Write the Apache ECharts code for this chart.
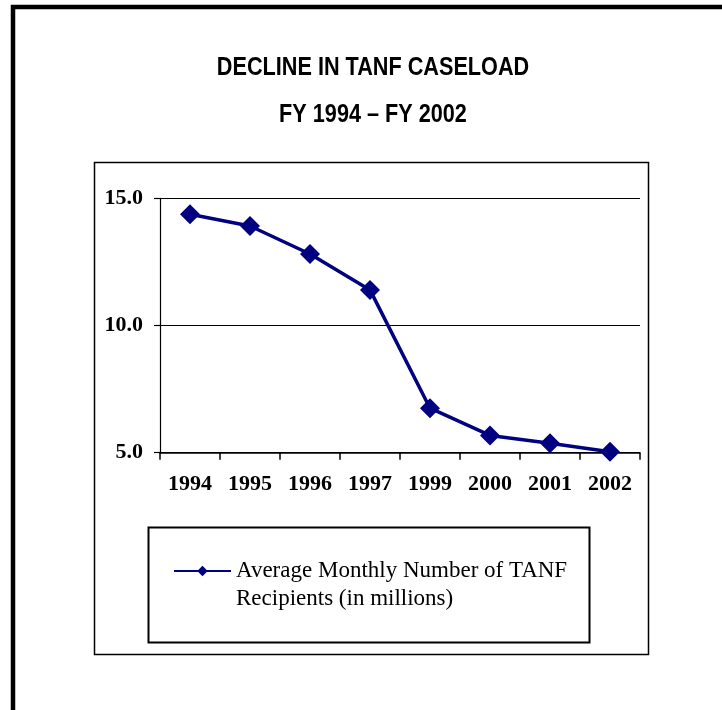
<!DOCTYPE html>
<html>
<head>
<meta charset="utf-8">
<script src="https://cdn.jsdelivr.net/npm/echarts@6/dist/echarts.min.js"></script>
<style>
  html, body { margin: 0; padding: 0; background: #fff; }
  #chart { width: 722px; height: 710px; }
</style>
</head>
<body>
<div id="chart"></div>
<script>
// Fiscal years shown on the category axis
const years = ['1994', '1995', '1996', '1997', '1999', '2000', '2001', '2002'];
// Average monthly TANF recipients, in millions
const recipients = [14.37, 13.91, 12.81, 11.40, 6.75, 5.68, 5.37, 5.04];
// Value axis ticks
const yTicks = [5, 10, 15];

const titleLines = ['DECLINE IN TANF CASELOAD', 'FY 1994 \u2013 FY 2002'];
const seriesName = 'Average Monthly Number of TANF\nRecipients (in millions)';
const serif = '"Liberation Serif", "Times New Roman", serif';
// condensed heading: Arial-metric bold, squeezed horizontally
const headingFont = 'bold 25px "Liberation Sans", Arial, sans-serif';

const chart = echarts.init(document.getElementById('chart'), null, { renderer: 'canvas' });

chart.setOption({
  backgroundColor: '#ffffff',
  animation: false,
  graphic: [
    // page border (runs off the right and bottom edges)
    { type: 'rect', shape: { x: 13, y: 7, width: 900, height: 900 },
      style: { fill: null, stroke: '#000', lineWidth: 4.5 }, z: 10 },
    // heading
    { type: 'text', x: 373, y: 68, scaleX: 0.866,
      style: { text: titleLines[0], x: 0, y: 0, align: 'center', verticalAlign: 'middle',
               font: headingFont, fill: '#000' } },
    { type: 'text', x: 373, y: 115, scaleX: 0.866,
      style: { text: titleLines[1], x: 0, y: 0, align: 'center', verticalAlign: 'middle',
               font: headingFont, fill: '#000' } },
    // chart frame
    { type: 'rect', shape: { x: 94.5, y: 162.5, width: 554, height: 492 },
      style: { fill: null, stroke: '#000', lineWidth: 1.5 } },
    // legend box
    { type: 'rect', shape: { x: 148.5, y: 527.5, width: 441, height: 115 },
      style: { fill: null, stroke: '#000', lineWidth: 2 } }
  ],
  legend: {
    left: 173,
    top: 529,
    padding: 0,
    itemWidth: 57,
    itemHeight: 13,
    data: [seriesName],
    // leading blank line keeps the marker level with the first text line
    formatter: name => '\n' + name,
    textStyle: { fontFamily: serif, fontSize: 23, lineHeight: 28, color: '#000' }
  },
  grid: { left: 160, right: 82, top: 198.3, bottom: 257.3, containLabel: false },
  xAxis: {
    type: 'category',
    data: years,
    boundaryGap: true,
    axisLine: { lineStyle: { color: '#000', width: 1.5 } },
    axisTick: { show: true, length: 7, lineStyle: { color: '#000', width: 1.5 } },
    axisLabel: { margin: 21, color: '#000', fontFamily: serif, fontWeight: 'bold', fontSize: 22 }
  },
  yAxis: {
    type: 'value',
    min: yTicks[0],
    max: yTicks[yTicks.length - 1],
    interval: yTicks[1] - yTicks[0],
    axisLine: { show: true, lineStyle: { color: '#000', width: 1.2 } },
    axisTick: { show: true, length: 6, lineStyle: { color: '#000', width: 1.2 } },
    splitLine: { show: true, lineStyle: { color: '#000', width: 1.2 } },
    axisLabel: {
      margin: 17, color: '#000', fontFamily: serif, fontWeight: 'bold', fontSize: 22,
      formatter: v => v.toFixed(1)
    }
  },
  series: [{
    name: seriesName,
    type: 'line',
    data: recipients,
    symbol: 'diamond',
    symbolSize: 20,
    showAllSymbol: true,
    lineStyle: { color: '#000080', width: 3.5 },
    itemStyle: { color: '#000080' }
  }]
});
</script>
</body>
</html>
